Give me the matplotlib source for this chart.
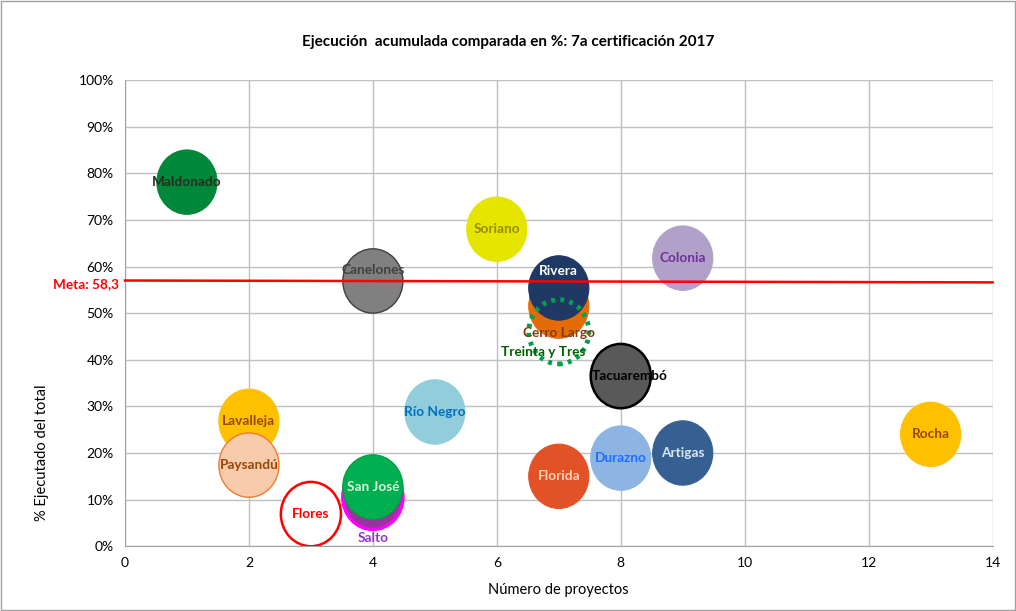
import matplotlib
matplotlib.use("Agg")
import matplotlib.pyplot as plt
from matplotlib.patches import Ellipse
from matplotlib.ticker import PercentFormatter

plt.rcParams['font.family'] = ['Lato', 'DejaVu Sans']

# data
deptos = ["Maldonado", "Soriano", "Canelones", "Colonia", "Cerro Largo", "Rivera",
          "Treinta y Tres", "Tacuarembó", "Río Negro", "Lavalleja", "Paysandú",
          "Flores", "Salto", "San José", "Florida", "Durazno", "Artigas", "Rocha"]
proyectos = [1, 6, 4, 9, 7, 7, 7, 8, 5, 2, 2, 3, 4, 4, 7, 8, 9, 13]
ejecutado = [78.1, 68.0, 56.9, 61.8, 51.5, 55.4, 46.0, 36.5, 28.8, 26.8, 17.4,
             6.9, 10.5, 12.7, 15.0, 18.9, 20.0, 24.0]
meta_x = [0, 14]
meta_y = [57.0, 56.6]

# styles
fills = ["#00883A", "#E5E500", "#808080", "#B1A0C7", "#E36C09", "#1F3864",
         "none", "#595959", "#92CDDC", "#FFC000", "#F8CBAD",
         "white", "#9933A0", "#00B050", "#E35127", "#8DB4E2", "#366092", "#FFC000"]
edges = ["#00883A", "#E5E500", "#404040", "#B1A0C7", "#E36C09", "#1F3864",
         "#00A050", "black", "#92CDDC", "#FFC000", "#ED7D31",
         "red", "#FF00FF", "#00A040", "#E35127", "#8DB4E2", "#366092", "#FFC000"]
lws = [0.8, 0.8, 1.0, 0.8, 0.8, 0.8, 3.5, 1.8, 0.8, 0.8, 1.0,
       1.8, 2.5, 1.0, 0.8, 0.8, 0.8, 0.8]
lss = ["-"] * 6 + [(0, (0.8, 1.1))] + ["-"] * 11
txt_col = ["#2B2B1E", "#9C8A00", "#404040", "#7030A0", "#843C0C", "white",
           "#006100", "black", "#0070C0", "#974706", "#974706",
           "red", "#9933CC", "#E2EFDA", "#FBD4B4", "#1F6FFF", "#DCE6F1", "#974706"]
# label offsets (x units, % units)
lab_dx = [0, 0, 0, 0, 0, 0, -0.26, 0.15, 0, 0, 0, 0, 0, 0, 0, 0, 0, 0]
lab_dy = [0, 0, 2.3, 0, -5.8, 3.6, -4.4, 0, 0, 0, 0, 0, -8.8, 0, 0, 0, 0, 0]

fig = plt.figure(figsize=(10.16, 6.11), dpi=100)
ax = fig.add_axes([0.123, 0.106, 0.854, 0.763])

bw, bh = 0.97, 13.8
for i, name in enumerate(deptos):
    e = Ellipse((proyectos[i], ejecutado[i]), bw, bh, facecolor=fills[i],
                edgecolor=edges[i], lw=lws[i], linestyle=lss[i], zorder=2 + i * 0.01)
    ax.add_patch(e)

ax.plot(meta_x, meta_y, color="red", lw=1.8, zorder=3, clip_on=False)

for i, name in enumerate(deptos):
    ax.text(proyectos[i] + lab_dx[i], ejecutado[i] + lab_dy[i], name, color=txt_col[i],
            fontsize=9.8, fontweight="bold", ha="center", va="center", zorder=4)

ax.text(-0.1, 56.3, "Meta: 58,3", color="red", fontsize=9.8, fontweight="bold",
        ha="right", va="center", clip_on=False)

ax.set_xlim(0, 14)
ax.set_ylim(0, 100)
ax.set_xticks(range(0, 15, 2))
ax.set_yticks(range(0, 101, 10))
ax.yaxis.set_major_formatter(PercentFormatter(decimals=0))
ax.grid(True, color="#C0C0C0", lw=1.0)
ax.set_axisbelow(True)
for s in ["top", "right"]:
    ax.spines[s].set_visible(False)
for s in ["left", "bottom"]:
    ax.spines[s].set_color("#A0A0A0")
ax.tick_params(length=0, labelsize=10, pad=8)

ax.set_xlabel("Número de proyectos", fontsize=10.5, labelpad=10)
ax.set_ylabel("% Ejecutado del total", fontsize=10.5)
ax.yaxis.set_label_coords(-0.088, 0.2)
fig.suptitle("Ejecución  acumulada comparada en %: 7a certificación 2017", y=0.943,
             fontsize=11, fontweight="bold")

fig.patches.append(plt.Rectangle((0.001, 0.001), 0.998, 0.998, transform=fig.transFigure,
                                 fill=False, edgecolor="#A0A0A0", lw=1))

fig.savefig("out.png", dpi=100)
